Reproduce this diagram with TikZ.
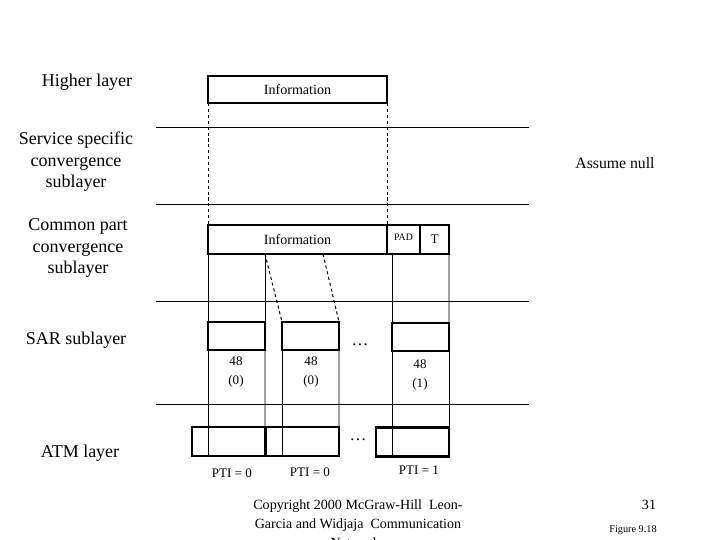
\documentclass[tikz,border=0pt]{standalone}
\usepackage{fontspec}
\setmainfont{Liberation Serif}
\usetikzlibrary{positioning}

\begin{document}
\begin{tikzpicture}[
  layertext/.style={align=center, font=\fontsize{12.8}{15.3}\selectfont},
  pdu/.style={draw, line width=1.8pt, minimum height=0.725cm, inner sep=0pt, outer sep=0pt, font=\fontsize{10}{12}\selectfont},
  sarbox/.style={draw, line width=1.8pt, minimum width=1.425cm, minimum height=0.7cm, inner sep=0pt, outer sep=0pt},
  cellbox/.style={draw, line width=1.8pt, minimum width=1.825cm, minimum height=0.725cm, inner sep=0pt, outer sep=0pt},
  small/.style={align=center, font=\fontsize{9.3}{13.5}\selectfont},
  link/.style={line width=0.7pt},
  split/.style={line width=0.7pt, dash pattern=on 2.2pt off 2pt},
]
  \useasboundingbox (0,0) rectangle (18,13.5);

  \draw[link] (3.9,10.325) -- (13.225,10.325);
  \draw[link] (3.9,8.4) -- (13.225,8.4);
  \draw[link] (3.9,5.975) -- (13.225,5.975);
  \draw[link] (3.9,3.4) -- (13.225,3.4);

  \node[layertext] (higher) at (2.175,11.45) {Higher layer};
  \node[layertext] (sscs) at (1.9,9.45) {Service specific\\convergence\\sublayer};
  \node[layertext] (cpcs) at (1.95,7.3) {Common part\\convergence\\sublayer};
  \node[layertext] (sarl) at (1.9,5.0) {SAR sublayer};
  \node[layertext] (atml) at (2.0,2.17) {ATM layer};
  \node[font=\fontsize{11.2}{13}\selectfont] (null) at (15.375,9.425) {Assume null};

  \node[pdu, minimum width=4.475cm, minimum height=0.675cm] (info1) at (7.4375,11.2625) {Information};

  \node[pdu, minimum width=4.475cm] (info2) at (7.4375,7.5125) {Information};
  \node[pdu, minimum width=0.825cm, anchor=west, font=\fontsize{7}{8}\selectfont, text depth=3pt] (pad) at (info2.east) {PAD};
  \node[pdu, minimum width=0.725cm, anchor=west, font=\fontsize{9.3}{10}\selectfont] (trail) at (pad.east) {T};

  \draw[split] (info1.south west) -- (info2.north west);
  \draw[split] (info1.south east) -- (info2.north east);

  \node[sarbox] (sar1) at (5.9125,5.1) {};
  \node[sarbox] (sar2) at (7.7625,5.1) {};
  \node[sarbox] (sar3) at (10.5125,5.075) {};
  \node[font=\fontsize{12}{14}\selectfont] (dots1) at (9.0,4.875) {\dots};

  \coordinate (cut) at (8.075,7.15);
  \draw[link] (sar1.north west) -- (sar1.north west |- info2.south);
  \draw[link] (sar1.north east) -- (sar1.north east |- info2.south);
  \draw[split] (sar1.north east |- info2.south) -- (sar2.north west);
  \draw[split] (cut) -- (sar2.north east);
  \draw[link] (sar3.north west) -- (sar3.north west |- pad.south);
  \draw[link] (sar3.north east) -- (trail.south east);

  \node[small] (len1) at (5.9,4.2) {48\\(0)};
  \node[small] (len2) at (7.775,4.2) {48\\(0)};
  \node[small] (len3) at (10.5,4.125) {48\\(1)};

  \node[cellbox] (cell1) at (5.7125,2.4625) {};
  \node[cellbox] (cell2) at (7.5625,2.4625) {};
  \node[cellbox] (cell3) at (10.3125,2.45) {};
  \node[font=\fontsize{12}{14}\selectfont] (dots2) at (8.95,2.5) {\dots};

  \draw[link] (sar1.south west) -- (sar1.south west |- cell1.south);
  \draw[link] (sar1.south east) -- (cell1.north east);
  \draw[link] (sar2.south west) -- (sar2.south west |- cell2.south);
  \draw[link] (sar2.south east) -- (cell2.north east);
  \draw[link] (sar3.south west) -- (sar3.south west |- cell3.south);
  \draw[link] (sar3.south east) -- (cell3.north east);

  \node[small] (pti1) at (5.8,1.675) {PTI = 0};
  \node[small] (pti2) at (7.75,1.7) {PTI = 0};
  \node[small] (pti3) at (10.475,1.75) {PTI = 1};

  \node[align=center, anchor=north, inner sep=0pt, font=\fontsize{10}{13.5}\selectfont] (copy) at (8.95,1.02) {Copyright 2000 McGraw-Hill\ \ Leon-\\Garcia and Widjaja\ \ Communication\\Networks};
  \node[font=\fontsize{10}{12}\selectfont] (page) at (16.225,0.875) {31};
  \node[font=\fontsize{7.3}{9}\selectfont] (fig) at (15.825,0.25) {Figure 9.18};
\end{tikzpicture}
\end{document}
